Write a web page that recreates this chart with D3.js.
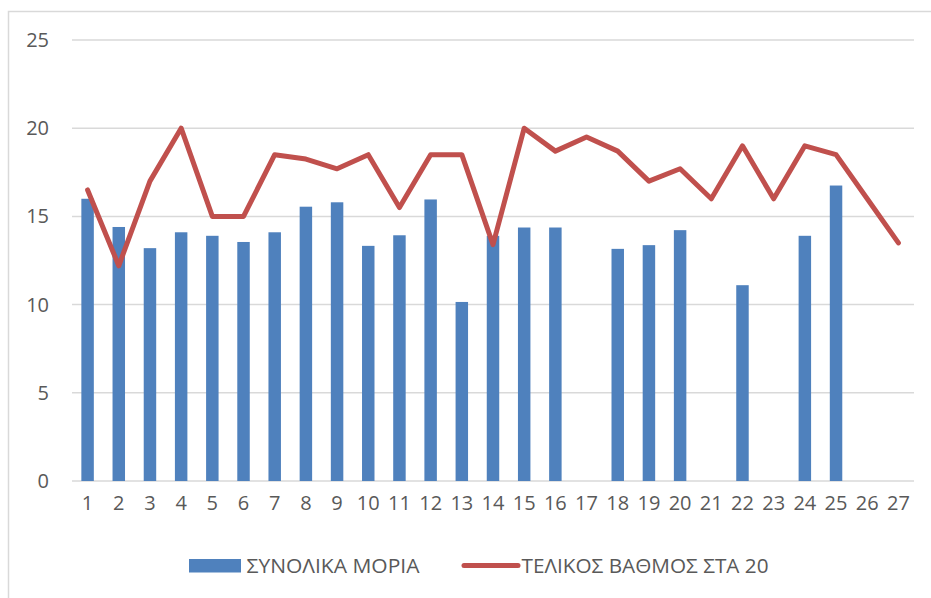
<!DOCTYPE html>
<html>
<head>
<meta charset="utf-8">
<script src="https://cdn.jsdelivr.net/npm/d3@7"></script>
<style>
  html, body { margin: 0; padding: 0; background: #fff; }
  svg { display: block; }
  text { font-family: "Open Sans", "Liberation Sans", sans-serif; fill: #595959; }
</style>
</head>
<body>
<svg id="chart" width="931" height="598"></svg>
<script>
const categories = ["1","2","3","4","5","6","7","8","9","10","11","12","13","14","15","16","17","18","19","20","21","22","23","24","25","26","27"];
const totalPoints = [16.0, 14.4, 13.2, 14.1, 13.9, 13.55, 14.1, 15.55, 15.8, 13.33, 13.93, 15.96, 10.15, 13.9, 14.37, 14.37, null, 13.16, 13.37, 14.22, null, 11.1, null, 13.9, 16.75, null, null];
const finalGrade = [16.5, 12.2, 17.0, 20.0, 15.0, 15.0, 18.5, 18.25, 17.7, 18.5, 15.5, 18.5, 18.5, 13.4, 20.0, 18.7, 19.5, 18.7, 17.0, 17.7, 16.0, 19.0, 16.0, 19.0, 18.5, 16.0, 13.5];
const yTicks = [0, 5, 10, 15, 20, 25];
const seriesNames = ["ΣΥΝΟΛΙΚΑ ΜΟΡΙΑ", "ΤΕΛΙΚΟΣ ΒΑΘΜΟΣ ΣΤΑ 20"];

const svg = d3.select("#chart");
const barColor = "#4f81bd", lineColor = "#c0504d", gridColor = "#d9d9d9";

// outer chart border
svg.append("rect").attr("x", 8.5).attr("y", 11.5).attr("width", 960).attr("height", 620)
  .attr("fill", "none").attr("stroke", gridColor).attr("stroke-width", 1.5);

const x = d3.scaleBand().domain(categories).range([72, 914]).paddingInner(0.6).paddingOuter(0.3);
const y = d3.scaleLinear().domain([0, 25]).range([481, 40]);

// gridlines
svg.append("g").selectAll("line").data(yTicks).join("line")
  .attr("x1", 72).attr("x2", 914)
  .attr("y1", d => y(d)).attr("y2", d => y(d))
  .attr("stroke", gridColor).attr("stroke-width", 1.5);

// y axis labels
const yAxis = d3.axisLeft(y).tickValues(yTicks).tickSize(0).tickPadding(0);
const gy = svg.append("g").attr("transform", "translate(49,0)").call(yAxis);
gy.select(".domain").remove();
gy.selectAll("text").attr("font-size", 20).attr("fill", "#595959")
  .style("font-family", '"Open Sans", "Liberation Sans", sans-serif');

// x axis labels
const xAxis = d3.axisBottom(x).tickSize(0).tickPadding(0);
const gx = svg.append("g").attr("transform", "translate(0,496)").call(xAxis);
gx.select(".domain").remove();
gx.selectAll("text").attr("font-size", 20).attr("fill", "#595959")
  .style("font-family", '"Open Sans", "Liberation Sans", sans-serif');

// bars
svg.append("g").selectAll("rect")
  .data(categories.map((c, i) => ({c, v: totalPoints[i]})).filter(d => d.v != null))
  .join("rect")
  .attr("x", d => x(d.c)).attr("width", x.bandwidth())
  .attr("y", d => y(d.v)).attr("height", d => y(0) - y(d.v))
  .attr("fill", barColor);

// line
const line = d3.line()
  .x((d, i) => x(categories[i]) + x.bandwidth() / 2)
  .y(d => y(d));
svg.append("path").datum(finalGrade)
  .attr("d", line)
  .attr("fill", "none").attr("stroke", lineColor).attr("stroke-width", 5)
  .attr("stroke-linejoin", "round").attr("stroke-linecap", "round");

// legend
const lg = svg.append("g");
lg.append("rect").attr("x", 189).attr("y", 559).attr("width", 52).attr("height", 13.5).attr("fill", barColor);
lg.append("text").attr("x", 246.5).attr("y", 572.5).attr("font-size", 19.5)
  .attr("textLength", 173).attr("lengthAdjust", "spacingAndGlyphs").text(seriesNames[0]);
lg.append("line").attr("x1", 464).attr("x2", 518).attr("y1", 565.5).attr("y2", 565.5)
  .attr("stroke", lineColor).attr("stroke-width", 5).attr("stroke-linecap", "round");
lg.append("text").attr("x", 521.5).attr("y", 572.5).attr("font-size", 19.5)
  .attr("textLength", 247).attr("lengthAdjust", "spacingAndGlyphs").text(seriesNames[1]);
</script>
</body>
</html>
